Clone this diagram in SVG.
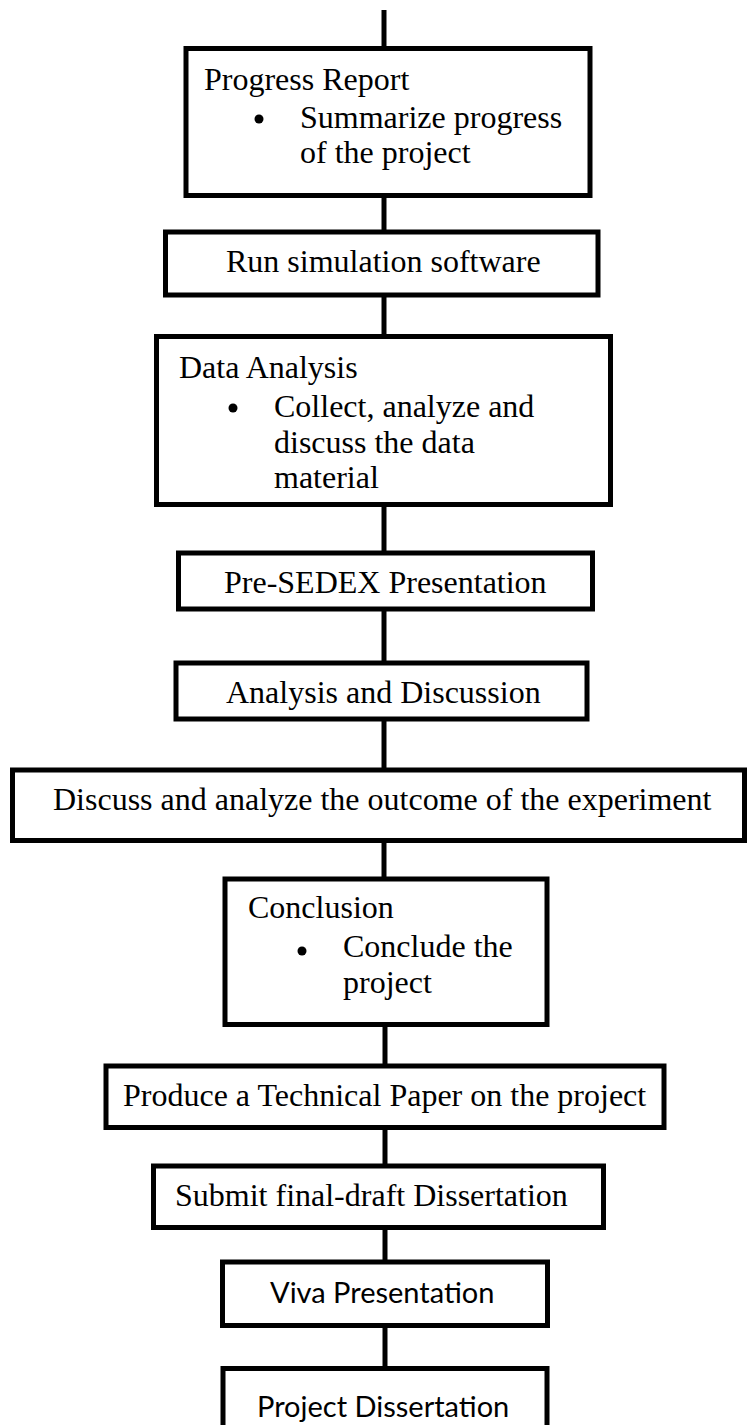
<svg xmlns="http://www.w3.org/2000/svg" width="747" height="1425" viewBox="0 0 747 1425">
<style>
.box{fill:#fff;stroke:#000;stroke-width:5}
.con{stroke:#000;stroke-width:5;fill:none}
.t{font-family:"Liberation Serif","Times New Roman",serif;font-size:32px;fill:#000}
.s{font-family:Lato,"Open Sans",sans-serif;font-size:29px;fill:#000}
.b{fill:#000}
</style>
<rect width="747" height="1425" fill="#fff"/>
<g id="connectors">
<line class="con" x1="384" y1="10" x2="384" y2="48"/>
<line class="con" x1="384" y1="196" x2="384" y2="232"/>
<line class="con" x1="384" y1="295" x2="384" y2="337"/>
<line class="con" x1="384" y1="505" x2="384" y2="553"/>
<line class="con" x1="384" y1="609" x2="384" y2="663"/>
<line class="con" x1="384" y1="719" x2="384" y2="770"/>
<line class="con" x1="384" y1="840" x2="384" y2="879"/>
<line class="con" x1="385" y1="1024" x2="385" y2="1066"/>
<line class="con" x1="385" y1="1127" x2="385" y2="1166"/>
<line class="con" x1="385" y1="1227" x2="385" y2="1262"/>
<line class="con" x1="385" y1="1325" x2="385" y2="1369"/>
</g>
<g id="n1">
<rect class="box" x="186" y="48.5" width="404" height="147"/>
<text class="t" x="204" y="90">Progress Report</text>
<circle class="b" cx="259" cy="119" r="4.5"/>
<text class="t" x="300" y="128">Summarize progress</text>
<text class="t" x="300" y="163">of the project</text>
</g>
<g id="n2">
<rect class="box" x="165.5" y="232" width="432.5" height="63"/>
<text class="t" x="226" y="272">Run simulation software</text>
</g>
<g id="n3">
<rect class="box" x="156.5" y="336.5" width="454" height="168"/>
<text class="t" x="179" y="378">Data Analysis</text>
<circle class="b" cx="233" cy="408" r="4.5"/>
<text class="t" x="274" y="417">Collect, analyze and</text>
<text class="t" x="274" y="453">discuss the data</text>
<text class="t" x="274" y="488">material</text>
</g>
<g id="n4">
<rect class="box" x="178.5" y="553" width="414" height="56"/>
<text class="t" x="224" y="593">Pre-SEDEX Presentation</text>
</g>
<g id="n5">
<rect class="box" x="176" y="663" width="411" height="56"/>
<text class="t" x="226" y="703">Analysis and Discussion</text>
</g>
<g id="n6">
<rect class="box" x="12.5" y="770" width="732" height="70.5"/>
<text class="t" x="53" y="810">Discuss and analyze the outcome of the experiment</text>
</g>
<g id="n7">
<rect class="box" x="225" y="879" width="322" height="145.5"/>
<text class="t" x="248" y="918">Conclusion</text>
<circle class="b" cx="302" cy="951" r="4.5"/>
<text class="t" x="343" y="957">Conclude the</text>
<text class="t" x="343" y="993">project</text>
</g>
<g id="n8">
<rect class="box" x="106" y="1066" width="558" height="61.5"/>
<text class="t" x="123" y="1106">Produce a Technical Paper on the project</text>
</g>
<g id="n9">
<rect class="box" x="153.5" y="1166" width="450" height="61.5"/>
<text class="t" x="175" y="1206">Submit final-draft Dissertation</text>
</g>
<g id="n10">
<rect class="box" x="222.5" y="1262" width="325" height="63.5"/>
<text class="s" x="270" y="1303">Viva Presentation</text>
</g>
<g id="n11">
<rect class="box" x="223" y="1368.5" width="324" height="80"/>
<text class="s" x="257" y="1417">Project Dissertation</text>
</g>
</svg>
